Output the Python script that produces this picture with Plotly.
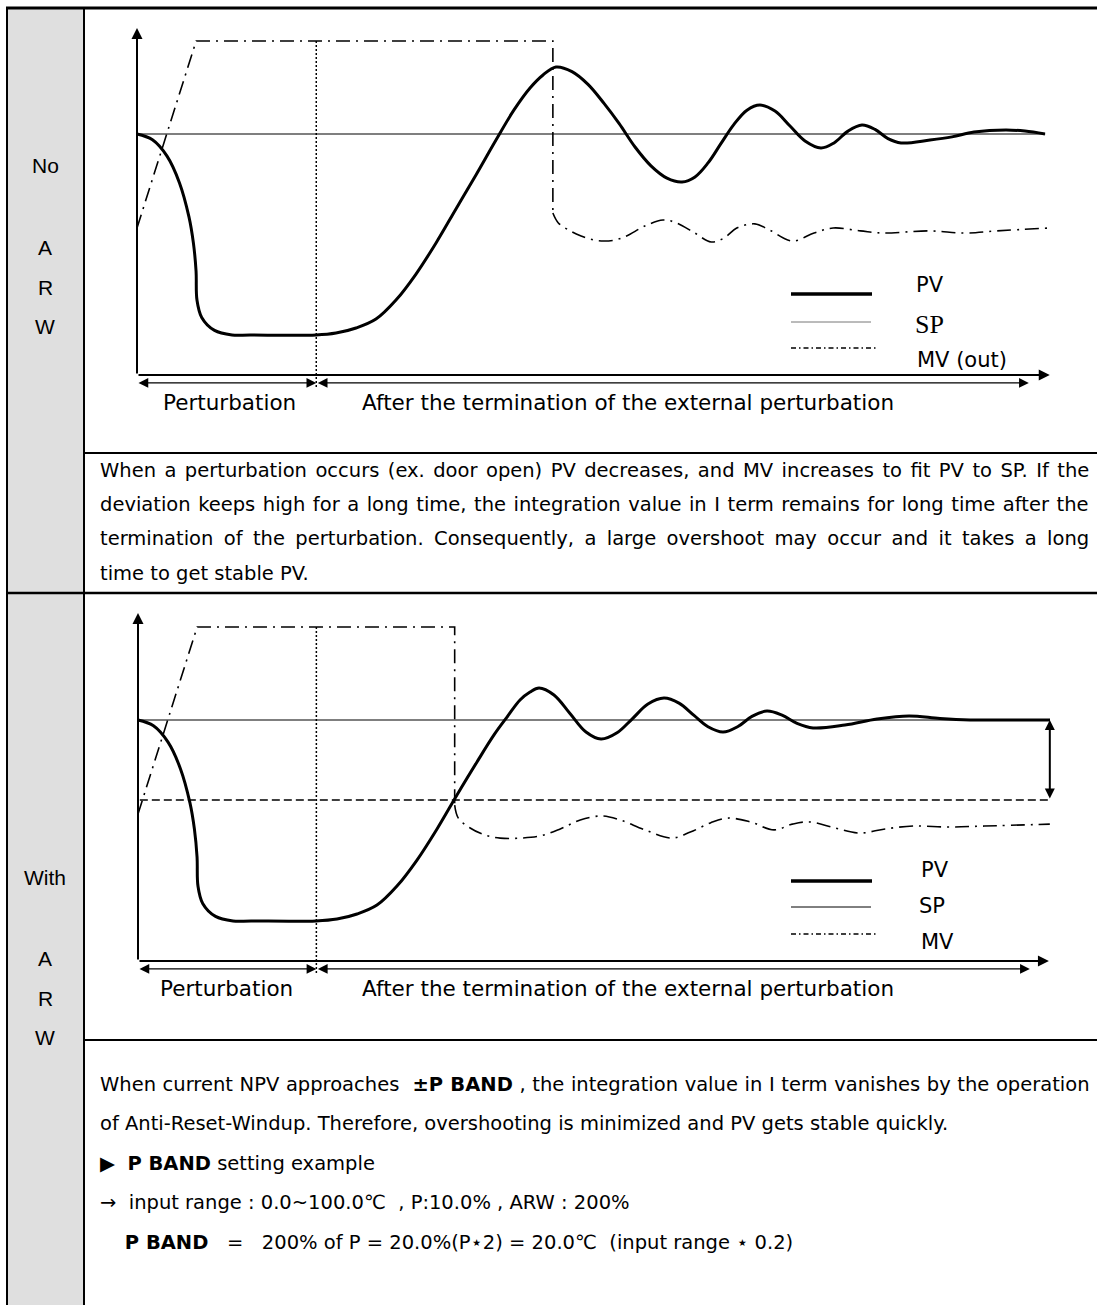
import plotly.graph_objects as go

# ======================= DATA =======================
# time axis: arbitrary units 0..100 ; value axis: % of SP (SP = 100)
sp_value = 100.0
mv_max = 138.6

# ---------- chart 1 : No ARW ----------
pv1_t = [0, 1.70, 3.30, 4.66, 5.71, 6.20, 6.49, 6.59, 7.11, 8.52, 10.44, 12.42, 19.67,
         21.87, 24.07, 26.26, 28.46, 30.66, 32.86, 35.05, 37.25, 39.45, 41.43, 43.19, 44.62,
         46.04, 47.80, 49.56, 51.32, 52.97, 54.73, 56.48, 58.24, 59.89, 61.32, 62.75, 64.18,
         65.60, 67.03, 68.46, 70.11, 71.76, 73.41, 75.16, 76.59, 78.13, 79.67, 81.10, 82.53,
         83.96, 87.14, 89.56, 91.98, 95.49, 97.58, 99.78]
pv1_v = [100, 97.6, 90.8, 79.8, 65.6, 54.7, 43.1, 31.1, 23.9, 18.5, 16.6, 16.6, 16.6,
         17.4, 19.5, 23.2, 31.1, 41.9, 54.8, 68.9, 83.0, 97.5, 110.0, 119.1, 124.5,
         127.8, 125.9, 120.6, 112.7, 104.4, 94.6, 86.8, 81.7, 80.1, 82.2, 88.0, 96.1,
         104.0, 109.9, 112.0, 109.5, 103.3, 97.1, 94.2, 96.3, 101.2, 103.7, 101.9, 98.1,
         96.3, 97.5, 98.8, 100.8, 101.7, 101.2, 100]
sp1_t = [0, 99.8]
mv1_step_t = [0, 6.5, 45.7, 45.7]
mv1_step_v = [61.0, 138.6, 138.6, 67.2]
mv1_tail_t = [45.7, 46.3, 47.6, 48.8, 50.2, 51.3, 52.5, 53.8, 55.8, 57.8, 59.3, 61.3, 63.1,
              64.5, 65.9, 67.9, 69.5, 72.0, 74.4, 76.5, 79.5, 82.0, 87.0, 91.0, 94.5, 100.3]
mv1_tail_v = [67.2, 63.1, 59.8, 57.7, 56.0, 55.6, 56.0, 57.7, 61.8, 64.3, 63.1, 58.9, 55.2,
              56.8, 61.0, 62.7, 60.2, 55.6, 58.9, 61.0, 59.8, 58.9, 59.8, 58.9, 59.8, 61.0]
perturb_end_1 = 19.7

# ---------- chart 2 : With ARW ----------
pv2_t = [0, 1.70, 3.30, 4.66, 5.71, 6.20, 6.49, 6.59, 7.11, 8.52, 10.44, 12.42, 19.56,
         21.87, 24.07, 26.26, 28.46, 30.66, 32.86, 35.05, 37.25, 39.12, 40.55, 41.98, 43.08,
         44.07, 45.71, 47.47, 49.23, 50.88, 52.64, 54.29, 56.04, 57.80, 59.45, 61.10, 62.64,
         64.29, 65.93, 67.47, 69.12, 70.77, 72.42, 74.18, 77.69, 81.21, 84.73, 88.13, 91.43,
         94.73, 100.22]
pv2_v = [100, 97.6, 90.8, 79.8, 65.6, 54.7, 43.1, 31.1, 23.9, 18.5, 16.6, 16.6, 16.6,
         17.4, 19.5, 23.2, 31.1, 41.9, 54.8, 68.9, 82.6, 93.8, 101.2, 108.3, 111.6,
         113.3, 110.4, 102.7, 95.0, 92.1, 94.7, 100.4, 106.6, 109.1, 107.0, 101.9, 97.2,
         95.0, 97.3, 101.5, 103.7, 102.0, 98.6, 96.7, 97.9, 100.4, 101.7, 100.6, 100,
         100, 100]
sp2_t = [0, 100.2]
mv2_step_t = [0, 6.5, 34.8, 34.8]
mv2_step_v = [61.0, 138.6, 138.6, 64.7]
mv2_tail_t = [34.8, 35.2, 36.5, 38.1, 39.8, 42.0, 44.2, 46.4, 48.6, 51.0, 53.0, 55.7, 58.6,
              60.7, 62.9, 64.8, 67.3, 69.9, 71.9, 73.8, 76.6, 79.3, 82.1, 85.2, 89.0, 93.0, 100.2]
mv2_tail_v = [64.7, 59.3, 55.2, 52.3, 51.0, 51.0, 51.9, 54.8, 58.5, 60.2, 58.5, 54.4, 51.0,
              53.5, 57.3, 59.3, 57.7, 54.4, 56.8, 57.7, 55.2, 53.1, 54.8, 56.0, 55.6, 56.0, 56.8]
perturb_end_2 = 19.6
p_band_low = 66.8          # SP - P BAND
p_band_t = [0.2, 100.2]

# axis extents (data units)
y_axis_top = [144.0, 144.4]
x_axis_end = [100.3, 100.1]
span_arrow_end = [98.0, 98.0]
span_arrow_v = -3.3
dotted_bottom = -5.0

# text
para1 = ["When a perturbation occurs (ex. door open) PV decreases, and MV increases to fit PV to SP. If the",
         "deviation keeps high for a long time, the integration value in I term remains for long time after the",
         "termination of the perturbation. Consequently, a large overshoot may occur and it takes a long",
         "time to get stable PV."]
para1_spacing = [2.26, 1.32, 4.19, 0]
para2 = ["When current NPV approaches  <b>±P BAND</b> , the integration value in I term vanishes by the operation",
         "of Anti-Reset-Windup. Therefore, overshooting is minimized and PV gets stable quickly.",
         "▶  <b>P BAND</b> setting example",
         "→  input range : 0.0~100.0℃  , P:10.0% , ARW : 200%",
         "\u00a0\u00a0\u00a0\u00a0<b>P BAND</b>\u00a0\u00a0\u00a0=\u00a0\u00a0\u00a0200% of P = 20.0%(P⋆2) = 20.0℃\u00a0\u00a0(input range ⋆ 0.2)"]
para2_spacing = [0.42, 0, 0, 0, 0]
side_labels_1 = ["No", "A", "R", "W"]
side_labels_2 = ["With", "A", "R", "W"]
legend_1 = ["PV", "SP", "MV (out)"]
legend_2 = ["PV", "SP", "MV"]

# ======================= LAYOUT GEOMETRY =======================
W, H = 1097, 1305
KX, KY = 9.1, 2.41                      # px per data unit
origins = [(137, 375), (138, 961)]      # pixel position of (t=0, v=0)
XR, YR = [-5, 105], [-20, 150]

def fx(px):
    return px / W

def fy(py):
    return 1 - py / H

fig = go.Figure()
layout_axes = {}
for i, (ox, oy) in enumerate(origins):
    n = '' if i == 0 else '2'
    layout_axes['xaxis' + n] = dict(domain=[fx(ox + XR[0] * KX), fx(ox + XR[1] * KX)], range=XR,
                                   visible=False, anchor='y' + n, fixedrange=True)
    layout_axes['yaxis' + n] = dict(domain=[fy(oy - YR[0] * KY), fy(oy - YR[1] * KY)], range=YR,
                                   visible=False, anchor='x' + n, fixedrange=True)
layout_axes['xaxis3'] = dict(domain=[0, 1], range=[0, W], visible=False, anchor='y3', fixedrange=True)
layout_axes['yaxis3'] = dict(domain=[0, 1], range=[H, 0], visible=False, anchor='x3', fixedrange=True)

MV_DASH = "14px,6px,2px,6px"
charts = [
    dict(pv_t=pv1_t, pv_v=pv1_v, sp_t=sp1_t, mvs_t=mv1_step_t, mvs_v=mv1_step_v,
         mvt_t=mv1_tail_t, mvt_v=mv1_tail_v, pe=perturb_end_1),
    dict(pv_t=pv2_t, pv_v=pv2_v, sp_t=sp2_t, mvs_t=mv2_step_t, mvs_v=mv2_step_v,
         mvt_t=mv2_tail_t, mvt_v=mv2_tail_v, pe=perturb_end_2),
]

annotations = []
shapes = []

def arrow(xr, yr, x, y, ax, ay, width, size, both=False):
    return dict(xref=xr, yref=yr, axref=xr, ayref=yr, x=x, y=y, ax=ax, ay=ay, text='',
                showarrow=True, arrowhead=2, arrowsize=size, arrowwidth=width,
                arrowcolor='black', arrowside='end+start' if both else 'end',
                startarrowhead=2, startarrowsize=size)

for i, c in enumerate(charts):
    xa = 'x' if i == 0 else 'x2'
    ya = 'y' if i == 0 else 'y2'
    fig.add_trace(go.Scatter(x=c['sp_t'], y=[sp_value, sp_value], mode='lines',
                             line=dict(color='black', width=1.2), xaxis=xa, yaxis=ya))
    fig.add_trace(go.Scatter(x=[c['pe'], c['pe']], y=[mv_max, dotted_bottom], mode='lines',
                             line=dict(color='black', width=1.5, dash='2px,2px'), xaxis=xa, yaxis=ya))
    if i == 1:
        fig.add_trace(go.Scatter(x=p_band_t, y=[p_band_low, p_band_low], mode='lines',
                                 line=dict(color='black', width=1.5, dash='8px,4px'), xaxis=xa, yaxis=ya))
    fig.add_trace(go.Scatter(x=c['mvs_t'], y=c['mvs_v'], mode='lines',
                             line=dict(color='black', width=1.6, dash=MV_DASH), xaxis=xa, yaxis=ya))
    fig.add_trace(go.Scatter(x=c['mvt_t'], y=c['mvt_v'], mode='lines',
                             line=dict(color='black', width=1.6, dash=MV_DASH, shape='spline', smoothing=1.0),
                             xaxis=xa, yaxis=ya))
    fig.add_trace(go.Scatter(x=c['pv_t'], y=c['pv_v'], mode='lines',
                             line=dict(color='black', width=3, shape='spline', smoothing=1.0),
                             xaxis=xa, yaxis=ya))
    annotations.append(arrow(xa, ya, 0, y_axis_top[i], 0, 0, 2, 1.1))
    annotations.append(arrow(xa, ya, x_axis_end[i], 0, 0, 0, 2, 1.1))
    annotations.append(arrow(xa, ya, c['pe'], span_arrow_v, 0, span_arrow_v, 1.3, 1.5, both=True))
    annotations.append(arrow(xa, ya, span_arrow_end[i], span_arrow_v, c['pe'], span_arrow_v, 1.3, 1.5, both=True))
    if i == 1:
        annotations.append(arrow(xa, ya, p_band_t[1], sp_value, p_band_t[1], p_band_low, 2, 1.0, both=True))

fig.add_trace(go.Scatter(x=[], y=[], xaxis='x3', yaxis='y3'))

# ---------- table ----------
def pline(x0, y0, x1, y1, w=2, color='black', dash=None):
    d = dict(type='line', xref='x3', yref='y3', x0=x0, y0=y0, x1=x1, y1=y1,
             line=dict(color=color, width=w))
    if dash:
        d['line']['dash'] = dash
    return d

shapes.append(dict(type='rect', xref='x3', yref='y3', x0=7, x1=84, y0=8, y1=H,
                   fillcolor='#dfdfdf', line=dict(width=0), layer='below'))
shapes.append(pline(6, 8, W, 8, 3))
shapes.append(pline(7, 8, 7, H, 2))
shapes.append(pline(84, 8, 84, H, 2))
shapes.append(pline(84, 453, W, 453, 2))
shapes.append(pline(7, 593, W, 593, 2.5))
shapes.append(pline(84, 1040, W, 1040, 2))

leg_rows = [(294, 322, 348), (881, 907, 934)]
for i, (a, b, cc) in enumerate(leg_rows):
    shapes.append(pline(791, a, 872, a, 3.5))
    shapes.append(pline(791, b, 871, b, 1, color='#777777' if i == 0 else 'black'))
    shapes.append(pline(791, cc, 877, cc, 1.5, dash='5px,3px,1.5px,3px'))

FONT = 'DejaVu Sans'

def txt(x, y, s, size, family=FONT, xanchor='left'):
    return dict(xref='x3', yref='y3', x=x, y=y, text=s, showarrow=False, xanchor=xanchor,
                yanchor='middle', font=dict(family=family, size=size, color='black'))

def justified(s, ws):
    if ws:
        return '<span style="word-spacing:%.2fpx">%s</span>' % (ws, s)
    return s

for lab, y in zip(side_labels_1, [165, 247, 287, 326]):
    annotations.append(txt(45, y, lab, 21, 'Liberation Sans Narrow, Liberation Sans', 'center'))
for lab, y in zip(side_labels_2, [877, 958, 998, 1037]):
    annotations.append(txt(45, y, lab, 21, 'Liberation Sans Narrow, Liberation Sans', 'center'))

for yl, cx in [(402, 229.5), (988, 226)]:
    annotations.append(txt(cx, yl, 'Perturbation', 21.5, xanchor='center'))
    annotations.append(txt(360, yl, 'After the termination of the external perturbation', 21.5))

annotations.append(txt(914, 285, legend_1[0], 21))
annotations.append(txt(913, 324, legend_1[1], 26, 'Liberation Serif'))
annotations.append(txt(915, 360, legend_1[2], 21))
annotations.append(txt(919, 870, legend_2[0], 21))
annotations.append(txt(917, 906, legend_2[1], 21))
annotations.append(txt(919, 942, legend_2[2], 21))

for s, ws, y in zip(para1, para1_spacing, [470, 504, 538, 573]):
    annotations.append(txt(98, y, justified(s, ws), 19.5))
for k, (s, ws) in enumerate(zip(para2, para2_spacing)):
    annotations.append(txt(98, 1084 + 39.5 * k, justified(s, ws), 19.5))

fig.update_layout(width=W, height=H, margin=dict(l=0, r=0, t=0, b=0),
                  paper_bgcolor='white', plot_bgcolor='rgba(0,0,0,0)',
                  showlegend=False, annotations=annotations, shapes=shapes, **layout_axes)

fig.write_html("out.html", config={'displayModeBar': False},
               post_script="document.body.style.margin='0';")
